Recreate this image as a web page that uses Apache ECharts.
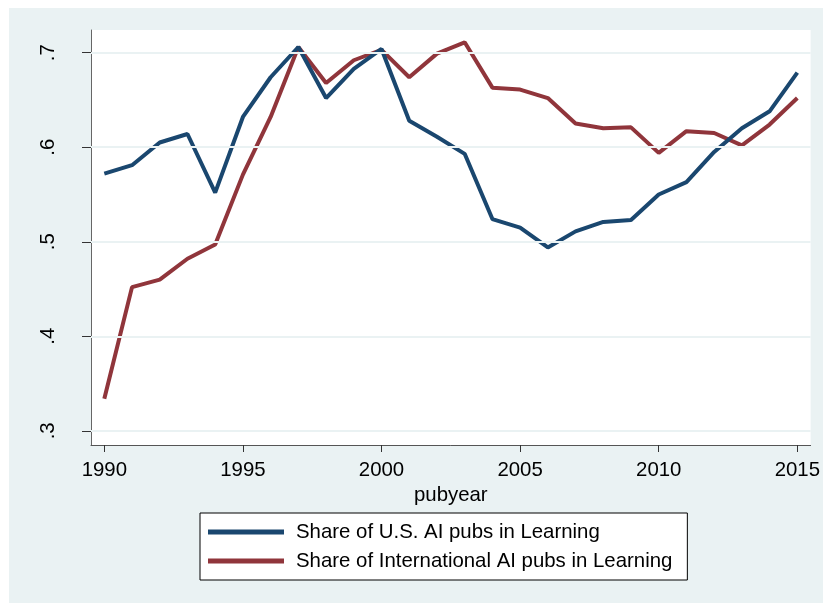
<!DOCTYPE html>
<html>
<head>
<meta charset="utf-8">
<script src="https://cdn.jsdelivr.net/npm/echarts@6/dist/echarts.min.js"></script>
<style>
  html, body { margin: 0; padding: 0; background: #fff; }
  #c { width: 823px; height: 603px; }
</style>
</head>
<body>
<div id="c"></div>
<script>
const years = [1990, 1991, 1992, 1993, 1994, 1995, 1996, 1997, 1998, 1999, 2000, 2001, 2002,
  2003, 2004, 2005, 2006, 2007, 2008, 2009, 2010, 2011, 2012, 2013, 2014, 2015]
const usShare = [0.572, 0.581, 0.605, 0.614, 0.552, 0.632, 0.674, 0.706, 0.652, 0.683, 0.704, 0.628, 0.611,
  0.593, 0.524, 0.515, 0.494, 0.511, 0.521, 0.523, 0.550, 0.563, 0.595, 0.620, 0.638, 0.679]
const intlShare = [0.334, 0.452, 0.460, 0.482, 0.497, 0.571, 0.632, 0.706, 0.668, 0.692, 0.703, 0.674, 0.699,
  0.711, 0.663, 0.661, 0.652, 0.625, 0.620, 0.621, 0.594, 0.617, 0.615, 0.602, 0.624, 0.652]
const xTicks = [1990, 1995, 2000, 2005, 2010, 2015]
const yTicks = [0.3, 0.4, 0.5, 0.6, 0.7]
const seriesNames = ['Share of U.S. AI pubs in Learning', 'Share of International AI pubs in Learning']

const font = '"Liberation Sans", Arial, sans-serif'
const fs = 20.4
const bg = '#EAF2F3'

const chart = echarts.init(document.getElementById('c'), null, { renderer: 'canvas' })

function pairs(vals) {
  return years.map((y, i) => [y, vals[i]])
}

chart.setOption({
  animation: false,
  backgroundColor: '#fff',
  graphic: [
    {
      type: 'rect',
      z: -10,
      shape: { x: 9, y: 8, width: 823 - 9, height: 603 - 8 },
      style: { fill: bg },
      silent: true,
    },
  ],
  grid: {
    left: 91,
    top: 30,
    right: 10,
    bottom: 158,
    show: true,
    backgroundColor: '#fff',
    borderWidth: 0,
  },
  legend: {
    orient: 'vertical',
    left: 200,
    top: 513,
    align: 'left',
    data: seriesNames,
    icon: 'rect',
    itemWidth: 76,
    itemHeight: 5,
    itemGap: 9,
    itemStyle: { borderWidth: 0 },
    padding: [9, 15, 9, 8],
    backgroundColor: '#fff',
    borderColor: '#000',
    borderWidth: 1,
    borderRadius: 0,
    selectedMode: false,
    textStyle: { fontFamily: font, fontSize: fs, color: '#000', lineHeight: 20, padding: [0, 0, 0, 7] },
  },
  xAxis: {
    type: 'value',
    min: 1989.52,
    max: 2015.48,
    name: 'pubyear',
    nameLocation: 'middle',
    nameGap: 36,
    nameTextStyle: { fontFamily: font, fontSize: fs, color: '#000' },
    axisLine: { show: true, lineStyle: { color: '#555', width: 1 } },
    axisTick: { show: true, length: 7, customValues: xTicks, lineStyle: { color: '#333' } },
    axisLabel: {
      customValues: xTicks,
      margin: 15,
      fontFamily: font,
      fontSize: fs,
      color: '#000',
      formatter: v => String(v),
    },
    splitLine: { show: false },
  },
  yAxis: {
    type: 'value',
    min: 0.285,
    max: 0.724,
    axisLine: { show: true, lineStyle: { color: '#666', width: 1 } },
    axisTick: { show: true, length: 9, customValues: yTicks, lineStyle: { color: '#333' } },
    axisLabel: {
      customValues: yTicks,
      rotate: 90,
      margin: 33,
      fontFamily: font,
      fontSize: fs,
      color: '#000',
      formatter: v => '.' + Math.round(v * 10),
    },
    splitLine: { show: false },
  },
  series: [
    {
      // horizontal grid lines at the tick values
      type: 'line',
      name: 'grid',
      data: [],
      silent: true,
      z: 1,
      markLine: {
        silent: true,
        symbol: 'none',
        label: { show: false },
        animation: false,
        lineStyle: { color: bg, width: 2, type: 'solid' },
        data: yTicks.map(v => ({ yAxis: v })),
      },
    },
    {
      type: 'line',
      name: seriesNames[0],
      data: pairs(usShare),
      showSymbol: false,
      z: 3,
      color: '#1A476F',
      lineStyle: { width: 4, color: '#1A476F' },
    },
    {
      type: 'line',
      name: seriesNames[1],
      data: pairs(intlShare),
      showSymbol: false,
      z: 2,
      color: '#90353B',
      lineStyle: { width: 4, color: '#90353B' },
    },
  ],
})
</script>
</body>
</html>
